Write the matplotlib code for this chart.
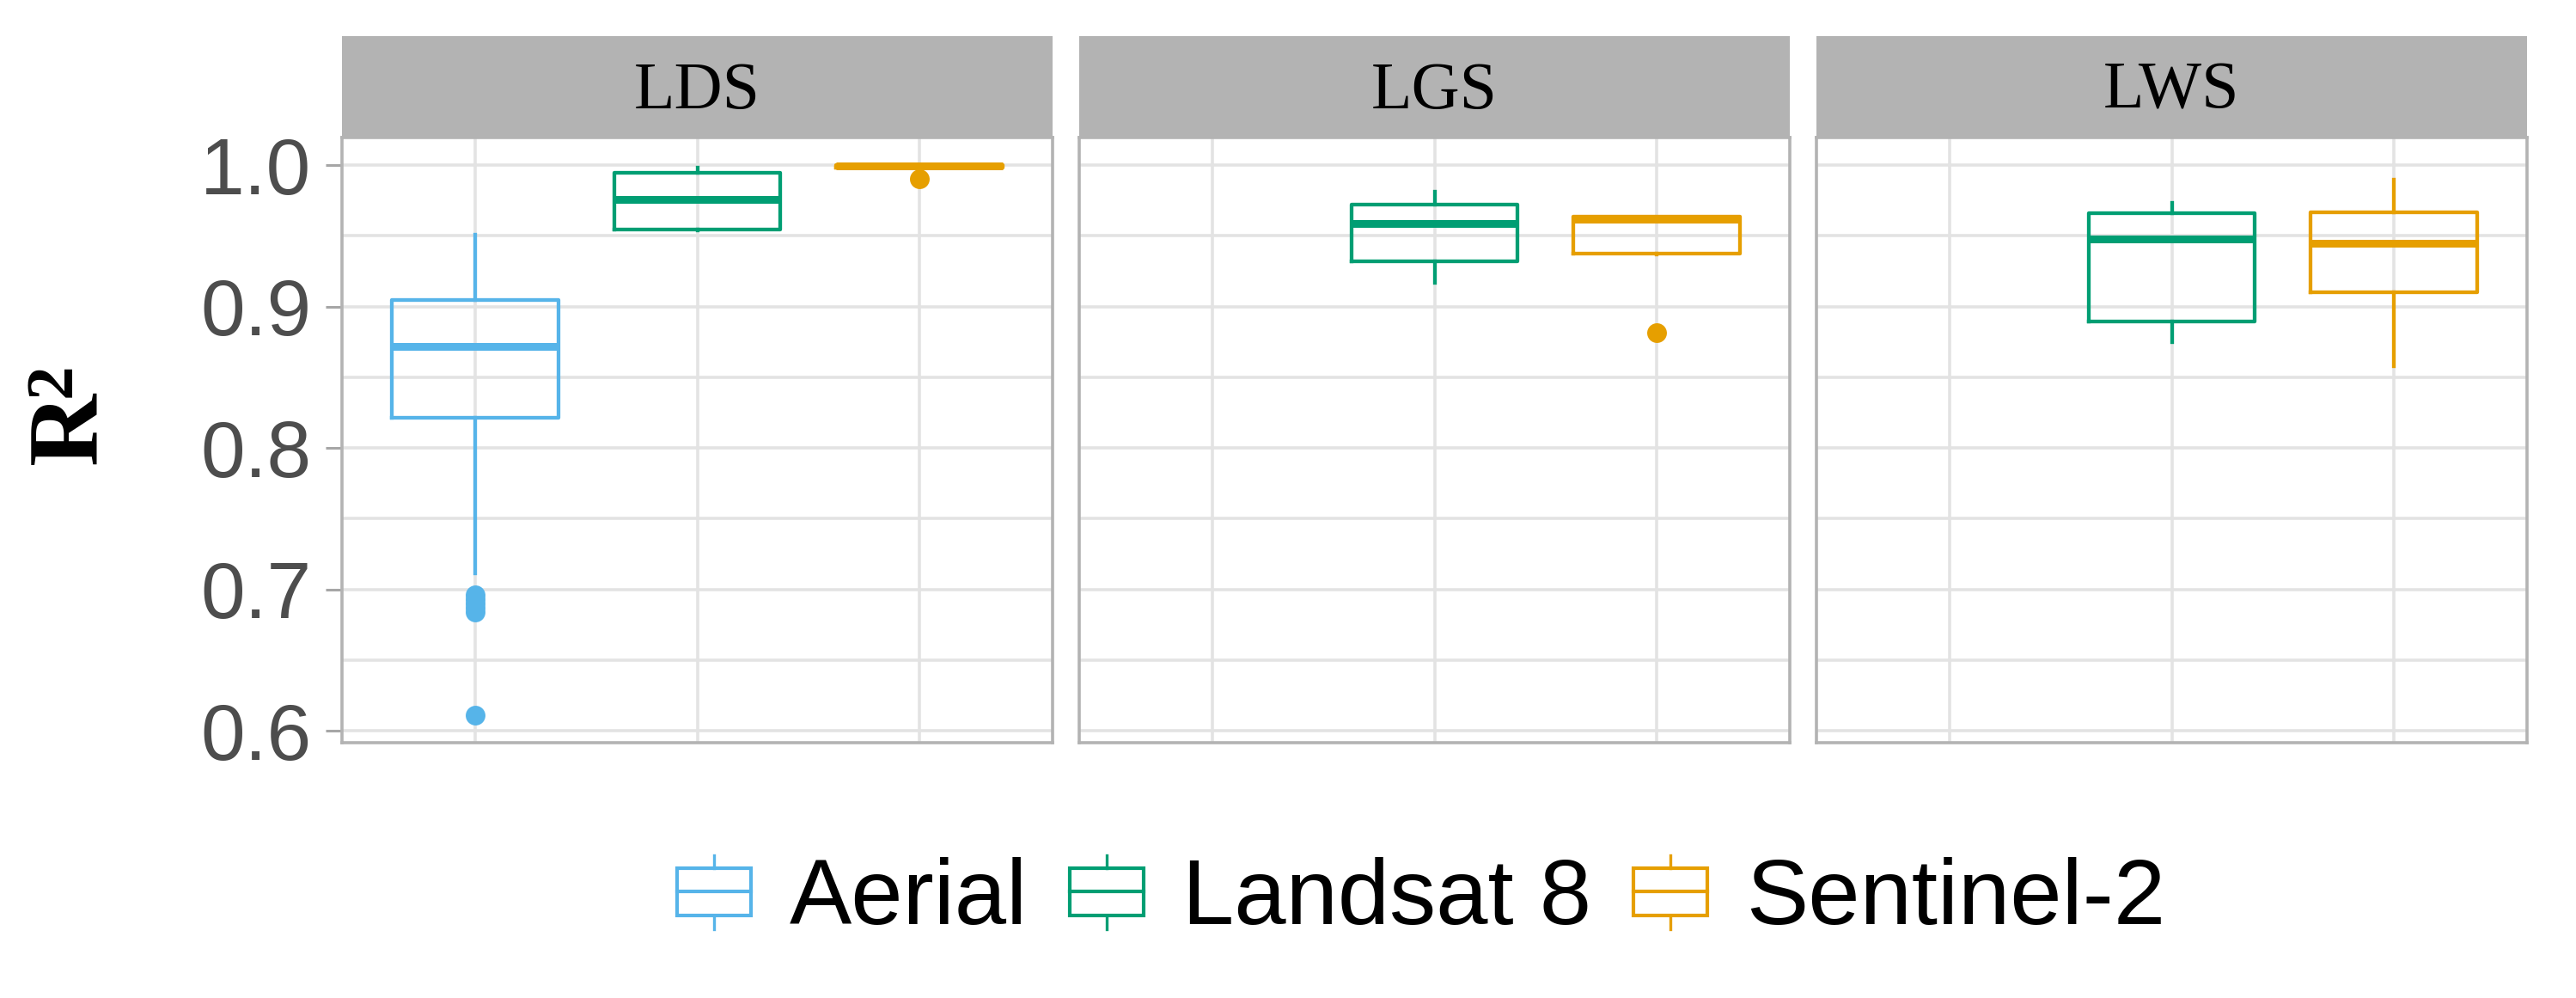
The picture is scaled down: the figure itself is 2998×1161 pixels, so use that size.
import matplotlib
matplotlib.use('Agg')
import matplotlib.pyplot as plt
from matplotlib.patches import Rectangle, Patch
from matplotlib.lines import Line2D
from matplotlib.legend_handler import HandlerBase

# data (box summaries per site / sensor)
sites = ['LDS', 'LGS', 'LWS']
sensors = ['Aerial', 'Landsat 8', 'Sentinel-2']
colors = ['#56B4E9', '#009E73', '#E69F00']

whislo = {'LDS': [0.7115, 0.9540, 0.9965],
          'LGS': [None, 0.9169, 0.9370],
          'LWS': [None, 0.8746, 0.8578]}
q1 = {'LDS': [0.8216, 0.9546, 0.9980],
      'LGS': [None, 0.9317, 0.9373],
      'LWS': [None, 0.8893, 0.9102]}
med = {'LDS': [0.8717, 0.9755, 0.9994],
       'LGS': [None, 0.9590, 0.9615],
       'LWS': [None, 0.9476, 0.9447]}
q3 = {'LDS': [0.9045, 0.9944, 1.0000],
      'LGS': [None, 0.9721, 0.9635],
      'LWS': [None, 0.9660, 0.9664]}
whishi = {'LDS': [0.9505, 0.9980, 1.0000],
          'LGS': [None, 0.9810, 0.9635],
          'LWS': [None, 0.9730, 0.9900]}
fliers = {'LDS': [[0.696, 0.693, 0.690, 0.687, 0.684, 0.611], [], [0.9905]],
          'LGS': [[], [], [0.8815]],
          'LWS': [[], [], []]}

yticks = [0.6, 0.7, 0.8, 0.9, 1.0]
yminor = [0.65, 0.75, 0.85, 0.95]


class BoxKey(HandlerBase):
    def create_artists(self, legend, orig_handle, xdescent, ydescent,
                       width, height, fontsize, trans):
        col = orig_handle.get_edgecolor()
        x0, y0 = -xdescent, -ydescent
        b0, b1 = y0 + 0.19 * height, y0 + 0.82 * height
        box = Rectangle((x0, b0), width, b1 - b0, facecolor='white',
                        edgecolor=col, lw=3, transform=trans)
        mid = Line2D([x0, x0 + width], [(b0 + b1) / 2] * 2, color=col, lw=3, transform=trans)
        top = Line2D([x0 + width / 2] * 2, [b1, y0 + height], color=col, lw=2.4, transform=trans)
        bot = Line2D([x0 + width / 2] * 2, [y0, b0], color=col, lw=2.4, transform=trans)
        return [box, mid, top, bot]


W, H = 2998, 1161
fig = plt.figure(figsize=(W / 100, H / 100), dpi=100)

left0 = 398 / W
pw = 827 / W
gap = 31 / W
bottom = 1 - 864 / H
ph = (864 - 160) / H
sh = (160 - 42) / H

grid_c = '#E3E3E3'
border_c = '#B3B3B3'

for i, site in enumerate(sites):
    x = left0 + i * (pw + gap)
    ax = fig.add_axes([x, bottom, pw, ph])
    ax.set_xlim(0.4, 3.6)
    ax.set_ylim(0.5915, 1.0195)
    ax.set_axisbelow(True)
    for yv in yticks + yminor:
        ax.axhline(yv, color=grid_c, lw=2.6, zorder=0)
    for xv in [1, 2, 3]:
        ax.axvline(xv, color=grid_c, lw=2.6, zorder=0)

    for j in range(3):
        if q1[site][j] is None:
            continue
        st = [{'whislo': whislo[site][j], 'q1': q1[site][j], 'med': med[site][j],
               'q3': q3[site][j], 'whishi': whishi[site][j], 'fliers': fliers[site][j]}]
        c = colors[j]
        ax.bxp(st, positions=[j + 1], widths=0.75, showcaps=False,
               boxprops=dict(color=c, lw=3.1),
               whiskerprops=dict(color=c, lw=3.1),
               medianprops=dict(color=c, lw=6.5, solid_capstyle='butt'),
               flierprops=dict(marker='o', markersize=16.5, markerfacecolor=c,
                               markeredgecolor=c, markeredgewidth=0, linestyle='none'),
               manage_ticks=False)

    ax.set_xticks([])
    ax.set_yticks(yticks)
    for s in ax.spines.values():
        s.set_color(border_c)
        s.set_linewidth(2.6)
    if i == 0:
        ax.set_yticklabels([f'{v:.1f}' for v in yticks], fontsize=67,
                           family='Liberation Sans', color='#4D4D4D')
        ax.tick_params(axis='y', length=13.5, width=2.2, color='#A6A6A6', pad=12)
    else:
        ax.tick_params(axis='y', length=0, labelleft=False)

    sax = fig.add_axes([x, bottom + ph, pw, sh])
    sax.set_facecolor(border_c)
    sax.set_xticks([])
    sax.set_yticks([])
    for s in sax.spines.values():
        s.set_visible(False)
    sax.text(0.5, 0.45, site, ha='center', va='center', fontsize=56,
             family='Liberation Serif', color='black', transform=sax.transAxes)

# y label "R" with superscript 2, rotated
fig.text(84 / W, 1 - 498 / H, 'R', rotation=90, fontsize=84, weight='bold',
         family='Liberation Serif', ha='center', va='center')
fig.text(63 / W, 1 - 442 / H, '2', rotation=90, fontsize=57, weight='bold',
         family='Liberation Serif', ha='center', va='center')

handles = [Patch(facecolor='white', edgecolor=c, label=s) for s, c in zip(sensors, colors)]
fig.legend(handles=handles, loc='center left', bbox_to_anchor=(788 / W, 1 - 1046 / H),
           ncol=3, frameon=False, borderpad=0, borderaxespad=0,
           handler_map={Patch: BoxKey()},
           handlelength=0.79, handleheight=0.85, handletextpad=0.42, columnspacing=0.45,
           prop={'family': 'Liberation Sans', 'size': 78})

fig.savefig('out.png', dpi=100)
